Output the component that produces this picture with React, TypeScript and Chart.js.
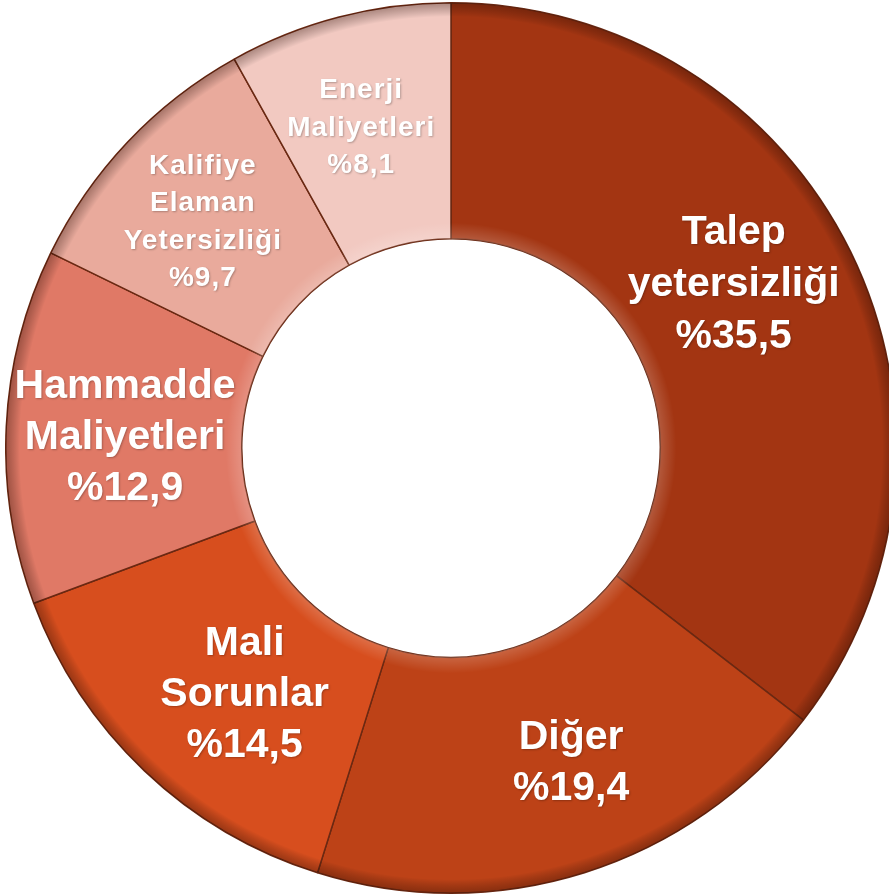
import React, { useEffect, useRef } from "react";
import { Chart, registerables } from "chart.js";

Chart.register(...registerables);

const categories = [
  "Talep yetersizliği",
  "Diğer",
  "Mali Sorunlar",
  "Hammadde Maliyetleri",
  "Kalifiye Elaman Yetersizliği",
  "Enerji Maliyetleri",
];
const labelLines = [
  ["Talep", "yetersizliği"],
  ["Diğer"],
  ["Mali", "Sorunlar"],
  ["Hammadde", "Maliyetleri"],
  ["Kalifiye", "Elaman", "Yetersizliği"],
  ["Enerji", "Maliyetleri"],
];
const values = [35.5, 19.4, 14.5, 12.9, 9.7, 8.1];
const colors = ["#A33512", "#BD4217", "#D74E1E", "#E07966", "#E9AA9C", "#F2C9C1"];
const fontSizes = [41, 41, 41, 41, 28, 28];
const lineHeights = [52, 51, 51, 51, 37.5, 37.5];
const letterSpacings = [0, 0, 0, 0, 1, 1];
const labelOffsets = [
  [-11, -19],
  [22, 3],
  [19, 9],
  [1, 6],
  [-11, -1],
  [-8, -3],
];

const labelPlugin = {
  id: "ringLabels",
  afterDatasetsDraw(chart: any) {
    const ctx = chart.ctx;
    const meta = chart.getDatasetMeta(0);
    const a0: any = meta.data[0];
    if (a0) {
      const { x, y, outerRadius, innerRadius } = a0.getProps(["x", "y", "outerRadius", "innerRadius"], true);
      ctx.save();
      // outer rim shading
      const g1 = ctx.createRadialGradient(x, y, outerRadius - 14, x, y, outerRadius);
      g1.addColorStop(0, "rgba(0,0,0,0)");
      g1.addColorStop(1, "rgba(40,10,0,0.35)");
      ctx.beginPath();
      ctx.arc(x, y, outerRadius, 0, Math.PI * 2);
      ctx.arc(x, y, outerRadius - 14, 0, Math.PI * 2, true);
      ctx.fillStyle = g1;
      ctx.fill();
      // inner rim highlight
      const g2 = ctx.createRadialGradient(x, y, innerRadius, x, y, innerRadius + 16);
      g2.addColorStop(0, "rgba(255,255,255,0.18)");
      g2.addColorStop(1, "rgba(255,255,255,0)");
      ctx.beginPath();
      ctx.arc(x, y, innerRadius + 16, 0, Math.PI * 2);
      ctx.arc(x, y, innerRadius, 0, Math.PI * 2, true);
      ctx.fillStyle = g2;
      ctx.fill();
      ctx.restore();
    }
    meta.data.forEach((arc: any, i: number) => {
      const p = arc.tooltipPosition();
      const lines = [...labelLines[i], "%" + values[i].toFixed(1).replace(".", ",")];
      const fs = fontSizes[i];
      const lh = lineHeights[i];
      const x = p.x + labelOffsets[i][0];
      const y0 = p.y + labelOffsets[i][1] - ((lines.length - 1) * lh) / 2;
      ctx.save();
      ctx.font = `bold ${fs}px "Liberation Sans", Arial, sans-serif`;
      (ctx as any).letterSpacing = letterSpacings[i] + "px";
      ctx.textAlign = "center";
      ctx.textBaseline = "middle";
      ctx.fillStyle = "#ffffff";
      ctx.shadowColor = "rgba(0,0,0,0.25)";
      ctx.shadowBlur = 2;
      ctx.shadowOffsetX = 1;
      ctx.shadowOffsetY = 1;
      lines.forEach((t, k) => ctx.fillText(t, x + letterSpacings[i] / 2, y0 + k * lh));
      ctx.restore();
    });
  },
};

export default function App() {
  const ref = useRef<HTMLCanvasElement | null>(null);
  useEffect(() => {
    if (!ref.current) return;
    const chart = new Chart(ref.current, {
      type: "doughnut",
      data: {
        labels: categories,
        datasets: [
          {
            data: values,
            backgroundColor: colors,
            borderColor: "#6a2812",
            borderWidth: 1.5,
            hoverOffset: 0,
            offset: 0,
          },
        ],
      },
      options: {
        responsive: false,
        animation: false,
        cutout: "47%",
        layout: { padding: 0 },
        plugins: {
          legend: { display: false },
          tooltip: { enabled: false },
        },
      },
      plugins: [labelPlugin],
    });
    return () => chart.destroy();
  }, []);
  return (
    <div
      style={{
        position: "absolute",
        left: 0,
        top: 0,
        width: 889,
        height: 896,
        overflow: "hidden",
        background: "#ffffff",
      }}
    >
      <div style={{ position: "absolute", left: 5, top: 2, width: 892, height: 892 }}>
        <canvas ref={ref} width={892} height={892} style={{ width: 892, height: 892 }} />
      </div>
    </div>
  );
}
